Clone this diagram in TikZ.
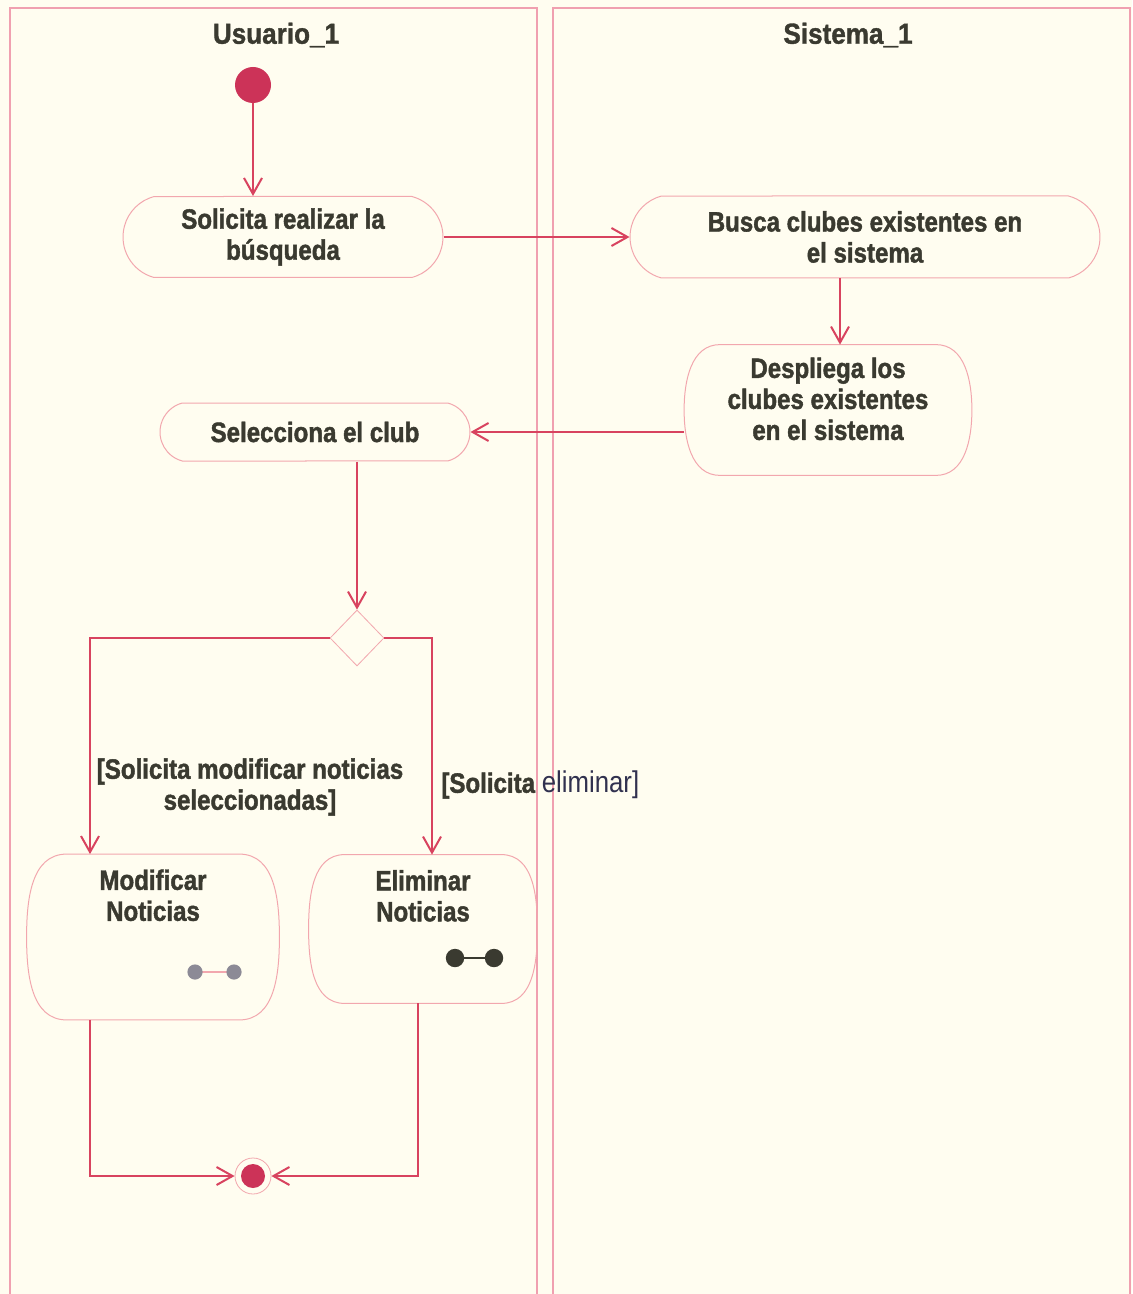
\documentclass[tikz,border=0pt]{standalone}
\usepackage{fontspec}
\newfontfamily\umlfont[FakeStretch=0.86, BoldFeatures={FakeBold=1.5}]{Liberation Sans}
\newfontfamily\lanefont[FakeStretch=0.9, BoldFeatures={FakeBold=1.2}]{Liberation Sans}
\usetikzlibrary{arrows.meta,shapes.geometric,shapes.misc,calc}
\def\barrel(#1)(#2){\draw[nodepink, line width=0.5pt] ([xshift=#2]#1.north west) -- ([xshift=-#2]#1.north east)
	to[out=0,in=90] (#1.east) to[out=-90,in=0] ([xshift=-#2]#1.south east) -- ([xshift=#2]#1.south west)
	to[out=180,in=-90] (#1.west) to[out=90,in=180] cycle;}

\definecolor{paper}{RGB}{255,253,240}
\definecolor{lanepink}{RGB}{240,160,176}
\definecolor{flowred}{RGB}{216,67,95}
\definecolor{nodepink}{RGB}{242,167,174}
\definecolor{inkgray}{RGB}{58,58,48}
\definecolor{dotred}{RGB}{204,51,88}
\definecolor{pingray}{RGB}{140,138,150}

\tikzset{
	lane/.style={draw=lanepink, line width=0.6pt},
	lanetitle/.style={font=\lanefont\bfseries\fontsize{14.5}{16}\selectfont, text=inkgray, inner sep=0pt},
	acttext/.style={font=\umlfont\bfseries\fontsize{14}{15.5}\selectfont, text=inkgray},
	act/.style={shape=rounded rectangle, rounded rectangle arc length=150, draw=nodepink, line width=0.5pt,
		fill=paper, inner sep=0pt, align=center, acttext},
	acttall/.style={shape=rectangle, inner sep=0pt},
	toptext/.style 2 args={label={[align=center, anchor=north, inner sep=0pt, yshift=#2, acttext]north:#1}},
	guard/.style={align=center, inner sep=0pt, acttext},
	startdot/.style={circle, fill=dotred, minimum size=18pt, inner sep=0pt},
	enddot/.style={circle, draw=nodepink, fill=paper, minimum size=18pt, inner sep=0pt,
		path picture={\fill[dotred] (path picture bounding box.center) circle (6pt);}},
	decision/.style={diamond, aspect=1, draw=nodepink, fill=paper, minimum width=27pt, minimum height=28pt, inner sep=0pt},
	flow/.style={draw=flowred, line width=1pt, -{Straight Barb[length=8pt,width=9pt]}}
}

\begin{document}
\begin{tikzpicture}[x=0.5pt, y=-0.5pt]
	%%%%% START %%%%%
	
	\fill[paper] (0,0) rectangle (1132,1294);
	\useasboundingbox (0,0) rectangle (1132,1294);
	
	% swimlanes
	\draw[lane] (10,1300) -- (10,8) -- (537,8) -- (537,1300);
	\draw[lane] (553,1300) -- (553,8) -- (1130,8) -- (1130,1300);
	\node[lanetitle] (usuario) at (276,35) {Usuario\_1};
	\node[lanetitle] (sistema) at (848,35) {Sistema\_1};
	
	% actions
	\node[startdot] (inicio) at (253,85) {};
	\node[act, minimum width=160pt, minimum height=40.5pt] (solicita) at (283,237) {Solicita realizar la\\búsqueda};
	\node[act, minimum width=235pt, minimum height=41pt] (busca) at (865,237) {Busca clubes existentes en\\el sistema};
	\node[acttall, minimum width=143.5pt, minimum height=65pt, toptext={Despliega los\\clubes existentes\\en el sistema}{-6.3pt}] (despliega) at (828,410) {};
	\node[act, minimum width=155pt, minimum height=29pt] (selecciona) at (315,432) {Selecciona el club};
	\node[decision] (rama) at (357,638) {};
	\node[acttall, minimum width=126pt, minimum height=82.5pt, toptext={Modificar\\Noticias}{-7.5pt}] (modificar) at (153,937) {};
	\node[acttall, minimum width=114pt, minimum height=74pt, toptext={Eliminar\\Noticias}{-7.5pt}] (eliminar) at (423,929) {};
	\node[enddot] (fin) at (253,1176) {};
	
	\barrel(despliega)(18pt)
	\barrel(modificar)(20pt)
	\barrel(eliminar)(18pt)
	
	% pin icons
	\draw[nodepink, line width=0.8pt] ($(modificar.center)+(42,35)$) -- ($(modificar.center)+(81,35)$);
	\fill[pingray] ($(modificar.center)+(42,35)$) circle (3.8pt);
	\fill[pingray] ($(modificar.center)+(81,35)$) circle (3.8pt);
	\draw[inkgray, line width=0.8pt] ($(eliminar.center)+(32,29)$) -- ($(eliminar.center)+(71,29)$);
	\fill[inkgray] ($(eliminar.center)+(32,29)$) circle (4.6pt);
	\fill[inkgray] ($(eliminar.center)+(71,29)$) circle (4.6pt);
	
	% guards
	\node[guard] (g1) at (250,787) {[Solicita modificar noticias\\seleccionadas]};
	\node[guard, anchor=west] (g2) at (441,785) {[Solicita {\mdseries\fontsize{15}{16}\selectfont\color{inkgray!85!blue}eliminar]}};
	
	% flows
	\draw[flow] (inicio.south) -- (inicio.south |- solicita.north);
	\draw[flow] (solicita.east) -- (busca.west);
	\draw[flow] ([xshift=6pt]despliega.north |- busca.south) -- ([xshift=6pt]despliega.north);
	\draw[flow] (despliega.west |- selecciona.east) -- (selecciona.east);
	\draw[flow] (rama.north |- selecciona.south) -- (rama.north);
	\draw[flow] (rama.west) -| ($(modificar.north)+(-63,0)$);
	\draw[flow] (rama.east) -| ($(eliminar.north)+(9,0)$);
	\draw[flow] ($(modificar.south)+(-63,0)$) |- (fin.west);
	\draw[flow] ($(eliminar.south)+(-5,0)$) |- (fin.east);
	
	%%%%% END %%%%%
\end{tikzpicture}
\end{document}
